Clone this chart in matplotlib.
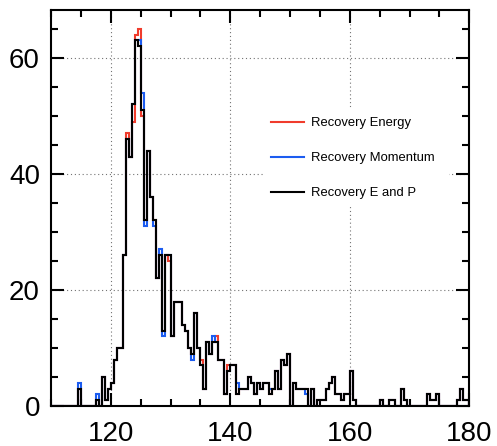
import numpy as np
import matplotlib.pyplot as plt
from matplotlib.ticker import MultipleLocator

plt.rcParams['font.family'] = ['Liberation Sans', 'DejaVu Sans']

# bin edges: 0.5 wide from 110 to 180
bin_lo, bin_hi, bin_w = 110.0, 180.0, 0.5

# counts per bin (black = E and P)
counts_ep = [
    0, 0, 0, 0, 0, 0, 0, 0, 0, 3,
    0, 0, 0, 0, 0, 1, 0, 5, 1, 3,
    4, 8, 10, 10, 26, 46, 43, 52, 63, 62,
    51, 32, 44, 36, 32, 22, 26, 13, 26, 26,
    12, 18, 18, 18, 14, 13, 10, 9, 16, 10,
    7, 3, 11, 9, 11, 11, 8, 8, 2, 6,
    7, 7, 2, 3, 3, 3, 5, 4, 2, 4,
    3, 4, 4, 2, 3, 6, 3, 8, 7, 9,
    0, 4, 3, 3, 3, 3, 0, 3, 0, 1,
    1, 1, 3, 4, 5, 2, 2, 1, 2, 2,
    6, 1, 0, 0, 0, 0, 0, 0, 0, 0,
    1, 0, 0, 1, 1, 0, 0, 3, 1, 0,
    0, 0, 0, 0, 0, 0, 2, 1, 1, 2,
    0, 0, 0, 0, 0, 0, 1, 3, 1, 1,
]

# bins where the energy / momentum recoveries differ from E and P
energy_diff = {25: 47, 27: 49, 28: 64, 29: 65, 30: 50, 39: 25,
               50: 8, 55: 12, 59: 7}
momentum_diff = {9: 4, 15: 2, 29: 63, 30: 54, 31: 31, 34: 31, 36: 27,
                 37: 12, 47: 8, 54: 12, 62: 4, 73: 3, 85: 2}

labels = ['Recovery Energy', 'Recovery Momentum', 'Recovery E and P']
colors = ['#f03c2c', '#1c5cf0', 'black']

counts_e = list(counts_ep)
for k, v in energy_diff.items():
    counts_e[k] = v
counts_p = list(counts_ep)
for k, v in momentum_diff.items():
    counts_p[k] = v

edges = np.arange(bin_lo, bin_hi + bin_w / 2, bin_w)

fig = plt.figure(figsize=(4.97, 4.46), dpi=100)
ax = fig.add_axes([51 / 497, 40 / 446, 418.3 / 497, 396 / 446])

for vals, lab, col in zip([counts_e, counts_p, counts_ep], labels, colors):
    ax.stairs(vals, edges, baseline=0, color=col, linewidth=1.5, label=lab)

ax.set_xlim(110, 180)
ax.set_ylim(0, 68.25)

ax.xaxis.set_major_locator(MultipleLocator(20))
ax.xaxis.set_minor_locator(MultipleLocator(5))
ax.yaxis.set_major_locator(MultipleLocator(20))
ax.yaxis.set_minor_locator(MultipleLocator(5))

ax.tick_params(which='both', direction='in', top=True, right=True, width=1.5)
ax.tick_params(which='major', length=9.5, labelsize=20)
ax.tick_params(which='minor', length=5)
ax.tick_params(axis='x', pad=11)
ax.tick_params(axis='y', pad=8)
for sp in ax.spines.values():
    sp.set_linewidth(1.5)

ax.grid(True, which='major', color='0.45', linestyle=(0, (1, 2.5)), linewidth=0.8)
ax.set_axisbelow(True)

leg = ax.legend(loc='upper left', bbox_to_anchor=(0.4925, 0.40, 0.475, 0.366),
                mode='expand', fontsize=9.4, frameon=True, fancybox=False,
                edgecolor='none', facecolor='white', framealpha=1,
                handlelength=2.5, handletextpad=0.55, labelspacing=1.75,
                borderpad=0.6)

fig.savefig('out.png', dpi=100)
